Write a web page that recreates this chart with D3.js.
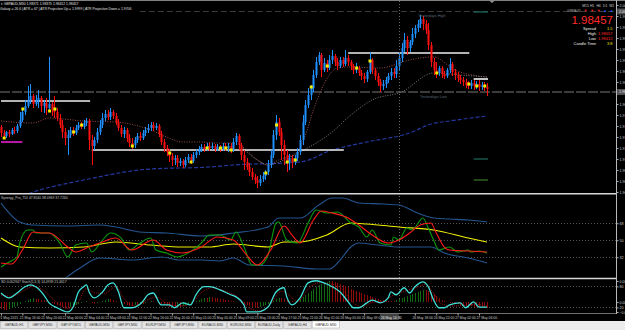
<!DOCTYPE html>
<html>
<head>
<meta charset="utf-8">
<script src="https://cdn.jsdelivr.net/npm/d3@7/dist/d3.min.js"></script>
<style>
  body { margin: 0; background: #000; }
  svg { display: block; }
</style>
</head>
<body>
<div id="chart"></div>
<script>
//GBPAUD M30 chart with TDI and stochastic/histogram windows

// ---- candles (one entry per 30 minute bar) ----
const opens = [1.9770,1.9758,1.9752,1.9760,1.9756,1.9764,1.9762,1.9772,1.9784,1.9800,
1.9812,1.9824,1.9832,1.9816,1.9824,1.9828,1.9812,1.9818,1.9808,1.9816,
1.9804,1.9800,1.9788,1.9774,1.9760,1.9748,1.9754,1.9764,1.9758,1.9768,
1.9774,1.9770,1.9778,1.9782,1.9744,1.9732,1.9744,1.9760,1.9774,1.9788,
1.9796,1.9790,1.9800,1.9792,1.9780,1.9768,1.9756,1.9764,1.9748,1.9738,
1.9734,1.9744,1.9752,1.9748,1.9758,1.9764,1.9768,1.9774,1.9768,1.9772,
1.9756,1.9740,1.9728,1.9720,1.9712,1.9704,1.9708,1.9698,1.9702,1.9694,
1.9704,1.9710,1.9702,1.9714,1.9720,1.9726,1.9730,1.9726,1.9732,1.9728,
1.9732,1.9726,1.9730,1.9726,1.9732,1.9728,1.9732,1.9724,1.9740,1.9752,
1.9734,1.9714,1.9700,1.9690,1.9680,1.9670,1.9664,1.9658,1.9666,1.9672,
1.9680,1.9694,1.9714,1.9754,1.9780,1.9760,1.9734,1.9714,1.9700,1.9708,
1.9700,1.9708,1.9720,1.9744,1.9780,1.9814,1.9834,1.9848,1.9874,1.9900,
1.9914,1.9884,1.9898,1.9888,1.9904,1.9912,1.9900,1.9892,1.9904,1.9896,
1.9908,1.9900,1.9892,1.9884,1.9888,1.9878,1.9872,1.9866,1.9880,1.9904,
1.9884,1.9872,1.9860,1.9852,1.9856,1.9864,1.9872,1.9880,1.9876,1.9892,
1.9908,1.9928,1.9944,1.9928,1.9940,1.9956,1.9968,1.9976,1.9986,1.9976,
1.9964,1.9934,1.9900,1.9884,1.9878,1.9888,1.9876,1.9872,1.9884,1.9896,
1.9880,1.9874,1.9868,1.9864,1.9860,1.9854,1.9852,1.9858,1.9852,1.9856,
1.9850,1.9854,1.9850];
const highs = [1.9774,1.9764,1.9762,1.9764,1.9768,1.9770,1.9776,1.9800,1.9808,1.9824,
1.9852,1.9856,1.9836,1.9834,1.9844,1.9832,1.9824,1.9828,1.9910,1.9820,
1.9832,1.9808,1.9796,1.9784,1.9768,1.9764,1.9770,1.9770,1.9774,1.9780,
1.9780,1.9784,1.9788,1.9786,1.9754,1.9750,1.9768,1.9784,1.9798,1.9804,
1.9804,1.9808,1.9804,1.9798,1.9786,1.9774,1.9770,1.9768,1.9756,1.9748,
1.9750,1.9758,1.9760,1.9764,1.9770,1.9776,1.9780,1.9780,1.9778,1.9776,
1.9762,1.9746,1.9734,1.9726,1.9718,1.9714,1.9714,1.9708,1.9706,1.9710,
1.9716,1.9716,1.9720,1.9726,1.9732,1.9736,1.9736,1.9738,1.9738,1.9738,
1.9736,1.9736,1.9734,1.9738,1.9738,1.9738,1.9738,1.9748,1.9758,1.9756,
1.9738,1.9724,1.9708,1.9698,1.9688,1.9676,1.9672,1.9674,1.9680,1.9684,
1.9704,1.9724,1.9764,1.9794,1.9788,1.9768,1.9744,1.9724,1.9716,1.9714,
1.9714,1.9728,1.9754,1.9794,1.9824,1.9848,1.9854,1.9884,1.9910,1.9920,
1.9918,1.9908,1.9904,1.9914,1.9924,1.9916,1.9908,1.9910,1.9910,1.9924,
1.9914,1.9904,1.9896,1.9898,1.9892,1.9884,1.9878,1.9884,1.9920,1.9908,
1.9888,1.9878,1.9866,1.9864,1.9870,1.9878,1.9888,1.9888,1.9904,1.9920,
1.9938,1.9958,1.9952,1.9944,1.9968,1.9974,1.9984,1.9994,1.9992,1.9984,
1.9978,1.9940,1.9908,1.9900,1.9892,1.9892,1.9882,1.9888,1.9908,1.9900,
1.9886,1.9880,1.9874,1.9870,1.9866,1.9862,1.9864,1.9864,1.9862,1.9864,
1.9860,1.9860,1.9858];
const lows = [1.9750,1.9746,1.9748,1.9750,1.9754,1.9756,1.9758,1.9768,1.9780,1.9794,
1.9808,1.9816,1.9808,1.9812,1.9808,1.9800,1.9798,1.9794,1.9804,1.9792,
1.9788,1.9782,1.9768,1.9748,1.9734,1.9714,1.9748,1.9752,1.9754,1.9764,
1.9766,1.9766,1.9772,1.9724,1.9694,1.9724,1.9738,1.9754,1.9768,1.9782,
1.9784,1.9784,1.9786,1.9774,1.9762,1.9750,1.9748,1.9740,1.9730,1.9726,
1.9728,1.9738,1.9742,1.9744,1.9752,1.9758,1.9762,1.9762,1.9764,1.9750,
1.9734,1.9720,1.9712,1.9700,1.9692,1.9694,1.9690,1.9692,1.9688,1.9690,
1.9698,1.9696,1.9698,1.9708,1.9714,1.9720,1.9720,1.9722,1.9722,1.9724,
1.9720,1.9722,1.9720,1.9722,1.9722,1.9720,1.9718,1.9720,1.9734,1.9724,
1.9704,1.9684,1.9684,1.9672,1.9664,1.9656,1.9648,1.9652,1.9660,1.9664,
1.9674,1.9688,1.9708,1.9744,1.9752,1.9704,1.9694,1.9680,1.9684,1.9688,
1.9694,1.9702,1.9714,1.9734,1.9774,1.9808,1.9824,1.9840,1.9868,1.9894,
1.9870,1.9880,1.9880,1.9884,1.9896,1.9892,1.9884,1.9888,1.9890,1.9892,
1.9892,1.9884,1.9876,1.9878,1.9872,1.9864,1.9858,1.9860,1.9876,1.9876,
1.9864,1.9852,1.9840,1.9844,1.9848,1.9858,1.9864,1.9868,1.9868,1.9884,
1.9900,1.9920,1.9914,1.9920,1.9934,1.9948,1.9960,1.9968,1.9964,1.9956,
1.9924,1.9890,1.9874,1.9868,1.9872,1.9868,1.9866,1.9868,1.9878,1.9872,
1.9864,1.9860,1.9856,1.9852,1.9848,1.9846,1.9846,1.9844,1.9846,1.9842,
1.9844,1.9842,1.9832];
const closes = [1.9758,1.9752,1.9760,1.9756,1.9764,1.9762,1.9772,1.9784,1.9800,1.9812,
1.9824,1.9832,1.9816,1.9824,1.9828,1.9812,1.9818,1.9808,1.9816,1.9804,
1.9800,1.9788,1.9774,1.9760,1.9748,1.9754,1.9764,1.9758,1.9768,1.9774,
1.9770,1.9778,1.9782,1.9744,1.9732,1.9744,1.9760,1.9774,1.9788,1.9796,
1.9790,1.9800,1.9792,1.9780,1.9768,1.9756,1.9764,1.9748,1.9738,1.9734,
1.9744,1.9752,1.9748,1.9758,1.9764,1.9768,1.9774,1.9768,1.9772,1.9756,
1.9740,1.9728,1.9720,1.9712,1.9704,1.9708,1.9698,1.9702,1.9694,1.9704,
1.9710,1.9702,1.9714,1.9720,1.9726,1.9730,1.9726,1.9732,1.9728,1.9732,
1.9726,1.9730,1.9726,1.9732,1.9728,1.9732,1.9724,1.9740,1.9752,1.9734,
1.9714,1.9700,1.9690,1.9680,1.9670,1.9664,1.9658,1.9666,1.9672,1.9680,
1.9694,1.9714,1.9754,1.9780,1.9760,1.9734,1.9714,1.9700,1.9708,1.9700,
1.9708,1.9720,1.9744,1.9780,1.9814,1.9834,1.9848,1.9874,1.9900,1.9914,
1.9884,1.9898,1.9888,1.9904,1.9912,1.9900,1.9892,1.9904,1.9896,1.9908,
1.9900,1.9892,1.9884,1.9888,1.9878,1.9872,1.9866,1.9880,1.9904,1.9884,
1.9872,1.9860,1.9852,1.9856,1.9864,1.9872,1.9880,1.9876,1.9892,1.9908,
1.9928,1.9944,1.9928,1.9940,1.9956,1.9968,1.9976,1.9986,1.9976,1.9964,
1.9934,1.9900,1.9884,1.9878,1.9888,1.9876,1.9872,1.9884,1.9896,1.9880,
1.9874,1.9868,1.9864,1.9860,1.9854,1.9852,1.9858,1.9852,1.9856,1.9850,
1.9854,1.9850,1.9846];

// signal dots on candles [bar, price]
const markers = [[1,1.9748],[8,1.9806],[18,1.9802],[20,1.9806],[27,1.9760],[30,1.9774],[49,1.9732],
[63,1.9718],[71,1.9700],[77,1.9728],[82,1.9728],[84,1.9728],[86,1.9724],[99,1.9678],[103,1.9774],
[107,1.9700],[110,1.9704],[116,1.9850],[122,1.9892],[133,1.9888],[138,1.9902],[163,1.9878],
[175,1.9856],[178,1.9852],[181,1.9852]];

// moving averages [bar, price]
const maroonMA = [[0,1.9782],[12,1.9778],[18,1.9788],[31,1.9782],[43,1.9780],[50,1.9774],[56,1.9764],
[62,1.9750],[68,1.9740],[75,1.9740],[81,1.9738],[87,1.9738],[91,1.9728],[96,1.9704],[100,1.9694],
[104,1.9704],[111,1.9720],[114,1.9754],[117,1.9804],[126,1.9888],[130,1.9890],[142,1.9888],
[153,1.9904],[162,1.9910],[170,1.9884],[182,1.9870]];
const grayMA = [[90,1.9730],[96,1.9704],[100,1.9694],[106,1.9704],[112,1.9720],[124,1.9760],[131,1.9794],
[139,1.9824],[150,1.9840],[162,1.9878],[172,1.9874],[182,1.9870]];
const navyMA = [[0,1.9614],[11,1.9638],[31,1.9664],[56,1.9686],[78,1.9690],[87,1.9694],[112,1.9700],
[124,1.9724],[137,1.9740],[153,1.9758],[161,1.9776],[168,1.9782],[182,1.9792]];

// support / resistance lines: price, first bar, last bar
const levelPrices = [1.9822, 1.9724, 1.9918, 1.9866];
const levelFrom = [0, 34, 130, 177];
const levelTo = [33, 128, 175, 182];
const magentaLevel = [1.9740, 0, 8];

const yesterdayHigh = 2.0001, yesterdayHighFrom = 52;
const yesterdayLow = 1.9840;
const atrMarks = [2.0000, 1.9706, 1.9664];
const atrColors = ["#1d6b5c", "#1d6b5c", "#3c7a28"];
const crossBar = 149;

const priceTicks = [2.0014,1.9992,1.9970,1.9948,1.9926,1.9904,1.9882,1.9860,1.9838,
1.9816,1.9794,1.9772,1.9750,1.9728,1.9706,1.9684,1.9662,1.9640];

// info panel values
const bidText = "1.98457";
const infoLabels = ["Spread", "High", "Low", "Candle Time"];
const infoValues = ["1.5", "1.98657", "1.98412", "3:8"];

// TDI window [bar, value]
const tdiUpper = [[0,89.4],[7,69.3],[12,66.1],[25,65.1],[37,66.1],[43,64.0],[52,58.7],[62,57.6],[75,54.5],
[87,57.6],[100,64.0],[104,73.5],[112,73.5],[119,87.3],[124,94.7],[128,94.7],[134,89.4],[143,88.4],
[149,87.3],[156,78.8],[162,73.5],[168,72.5],[175,71.4],[182,69.3]];
const tdiLower = [[0,-14],[10,-8],[20,2],[29,19.5],[37,31.1],[49,29.0],[60,32.2],[67,29.0],[75,29.0],
[82,28.0],[87,31.1],[93,23.7],[106,22.7],[118,19.5],[123,19.5],[127,29.0],[131,42.8],[134,47.0],
[141,44.9],[149,42.8],[161,42.8],[166,36.4],[175,31.1],[182,25.8]];
const tdiBase = [[0,52.3],[7,42.8],[18,41.7],[31,42.8],[43,48.1],[56,44.9],[68,42.8],[78,42.8],[87,46.0],
[100,42.8],[106,48.1],[112,48.1],[122,55.5],[131,68.2],[137,67.2],[149,64.0],[162,60.8],[175,52.3],[182,48.1]];
const tdiPrice = [[0,21.6],[3,26.9],[6,32.2],[7,47.0],[10,60.8],[12,60.8],[13,57.6],[18,57.6],[22,47.0],
[25,32.2],[28,44.9],[32,47.0],[34,37.5],[38,50.2],[41,57.6],[45,52.3],[48,39.6],[52,47.0],[56,52.3],
[58,39.6],[62,36.4],[66,32.2],[70,36.4],[75,47.0],[78,55.5],[82,55.5],[86,50.2],[88,58.7],[91,42.8],
[94,23.7],[97,23.7],[100,34.3],[103,68.2],[104,69.3],[107,50.2],[111,47.0],[115,68.2],[118,82.0],
[122,78.8],[126,79.9],[131,68.2],[134,64.0],[137,53.4],[139,60.8],[142,47.0],[146,44.9],[147,53.4],
[149,50.2],[152,63.0],[154,60.8],[158,73.5],[160,63.0],[162,50.2],[164,39.6],[168,42.8],[171,37.5],
[175,39.6],[176,37.5],[179,38.6],[182,36.4]];
const tdiSignal = [[0,25.8],[4,24.8],[8,39.6],[12,58.7],[16,57.6],[18,57.6],[25,42.8],[28,37.5],[33,42.8],
[37,47.0],[43,52.3],[49,39.6],[57,50.2],[62,39.6],[68,36.4],[75,42.8],[81,53.4],[87,50.2],[92,34.3],
[96,23.7],[101,39.6],[106,65.1],[109,55.5],[112,47.0],[117,71.4],[120,81.0],[124,78.8],[130,73.5],
[134,66.1],[139,55.5],[145,47.0],[149,50.2],[153,57.6],[157,66.1],[161,68.2],[163,57.6],[166,42.8],
[168,39.6],[175,38.6],[182,37.5]];
const tdiLevels = [68, 50, 32];

// stochastic window [bar, value]
const stochMain = [[0,61],[3,47],[6,61],[9,79],[11,84],[13,79],[16,56],[18,33],[21,19],[25,7],[27,21],
[29,64],[31,79],[32,84],[33,64],[35,47],[38,64],[40,84],[42,90],[44,64],[46,19],[49,19],[53,36],[55,56],
[57,61],[60,27],[63,27],[65,19],[68,33],[71,27],[73,56],[76,79],[78,79],[82,70],[86,56],[88,50],[91,27],
[92,7],[96,7],[100,21],[103,64],[106,76],[107,50],[109,27],[112,47],[115,90],[118,96],[121,90],[124,79],
[127,64],[130,36],[132,19],[134,19],[137,33],[139,41],[142,33],[145,47],[146,64],[148,56],[151,76],
[153,61],[155,79],[158,93],[160,79],[162,41],[164,19],[166,19],[168,27],[172,33],[174,19],[177,36],
[179,21],[182,21]];
const stochSignal = [[0,55],[4,52],[8,66],[12,80],[16,68],[20,40],[25,17],[29,36],[32,74],[35,62],[39,60],
[43,80],[46,45],[50,24],[55,42],[58,50],[62,32],[67,24],[71,30],[75,62],[79,76],[84,66],[89,48],[93,18],
[97,10],[101,30],[105,66],[108,54],[111,36],[115,72],[119,90],[124,86],[128,70],[131,40],[135,22],
[139,34],[143,38],[147,55],[151,66],[156,78],[159,86],[162,60],[165,30],[169,24],[174,26],[178,28],[182,24]];
const stochLevels = [80, 20];
// histogram, one value per bar
const histogram = [-0.0007,-0.0008,-0.0008,
-0.0007,-0.0006,-0.0005,-0.0004,
-0.0002,0.0000,0.0001,0.0002,0.0003,0.0004,
0.0003,0.0003,0.0002,0.0002,0.0001,
0.0000,-0.0001,-0.0002,-0.0003,-0.0004,-0.0005,-0.0006,-0.0006,-0.0005,-0.0004,
-0.0003,-0.0002,-0.0001,0.0000,0.0001,0.0000,-0.0001,-0.0002,-0.0001,
0.0000,0.0001,0.0002,0.0003,0.0003,0.0002,0.0001,0.0000,
-0.0001,-0.0002,-0.0003,-0.0004,-0.0004,-0.0003,-0.0003,-0.0002,-0.0002,-0.0001,
0.0000,0.0001,0.0001,0.0000,-0.0001,
-0.0002,-0.0003,-0.0004,-0.0005,-0.0005,-0.0006,-0.0005,-0.0005,-0.0004,-0.0003,
-0.0002,-0.0001,0.0000,0.0001,0.0002,0.0003,0.0004,0.0004,0.0005,0.0005,0.0004,
0.0004,0.0003,0.0003,0.0002,0.0002,0.0001,0.0001,0.0000,0.0000,
-0.0001,-0.0002,-0.0003,-0.0004,-0.0005,-0.0006,-0.0006,-0.0005,-0.0004,-0.0003,-0.0002,
-0.0001,0.0001,0.0003,0.0004,0.0004,0.0003,
0.0002,0.0001,0.0001,0.0000,0.0001,
0.0003,0.0005,0.0007,0.0009,0.0011,0.0013,
0.0015,0.0017,0.0018,0.0019,0.0020,0.0021,
0.0021,0.0020,0.0019,0.0018,0.0017,0.0016,0.0015,
0.0013,0.0012,0.0011,0.0010,0.0009,0.0008,0.0007,0.0006,0.0005,0.0004,0.0003,
0.0002,0.0002,0.0001,0.0001,0.0001,0.0001,
0.0002,0.0003,0.0004,0.0005,0.0006,0.0007,
0.0008,0.0009,0.0010,0.0011,0.0012,0.0012,0.0011,
0.0010,0.0008,0.0006,0.0004,0.0002,
0.0001,0.0000,-0.0001,-0.0001,-0.0002,-0.0002,-0.0003,
-0.0003,-0.0004,-0.0004,-0.0004,-0.0005,-0.0005,-0.0005,-0.0005,-0.0006,-0.0006];

// time axis (the label under the crosshair box is hidden there)
const timeBars = [0,8,16,24,32,40,48,56,64,72,80,88,96,104,112,120,128,136,155,163,171,179];
const timeLabels = ["21 May 2015","21 May 16:00","21 May 20:00","22 May 00:00","22 May 04:00","22 May 08:00",
"22 May 12:00","22 May 16:00","22 May 20:00","25 May 01:00","25 May 05:00","25 May 09:00","25 May 13:00",
"25 May 17:00","25 May 21:00","26 May 01:00","26 May 05:00","26 May 09:00",
"26 May 18:00","26 May 22:00","27 May 02:00","27 May 06:00"];
const crossLabel = "26 May 14:30";

const tabNames = ["GBPAUD,H1","GBPJPY,M30","GBPJPY,M15","GBPAUD,M30","GBPJPY,M30","EURJPY,M30",
"GBPJPY,M30","EURAUD,M30","EURUSD,M30","EURAUD,Daily","GBPAUD,H4","GBPAUD,M30"];

const timeframes = ["M15","H1","H4","D1","W1"];
const tfTrend = ["down","down","down","up","up"];

// ---- drawing ----
var W = 625, H = 330, axisX = 616;
var FONT = "Liberation Sans, Arial, sans-serif";

var svg = d3.select("#chart").append("svg")
    .attr("width", W)
    .attr("height", H)
    .style("font-family", FONT);

svg.append("rect").attr("width", W).attr("height", H).attr("fill", "#000");

var x = d3.scaleLinear().domain([0, 182]).range([1, 487]);
var yPrice = d3.scaleLinear().domain([1.9638, 2.0024]).range([193, 0]);
var yTdi = d3.scaleLinear().domain([11, 99]).range([277, 194]);
var yOsc = d3.scaleLinear().domain([4, 101]).range([313, 279]);
var yHist = d3.scaleLinear().domain([-0.0011, 0.0023]).range([313, 279]);

var defs = svg.append("defs");
function addClip(id, y0, y1) {
    defs.append("clipPath").attr("id", id)
        .append("rect").attr("x", 0).attr("y", y0).attr("width", axisX).attr("height", y1 - y0);
}
addClip("clipMain", 1, 193);
addClip("clipTdi", 194.5, 277.5);
addClip("clipOsc", 279.5, 313);
//right axis labels are cut by the window edge, as in the terminal
defs.append("clipPath").attr("id", "clipAxis")
    .append("rect").attr("x", axisX).attr("y", 0).attr("width", W - axisX).attr("height", 321);

var main = svg.append("g").attr("clip-path", "url(#clipMain)");

//yesterday high / low
main.append("line")
    .attr("x1", x(yesterdayHighFrom)).attr("x2", axisX)
    .attr("y1", Math.round(yPrice(yesterdayHigh)) + 0.5).attr("y2", Math.round(yPrice(yesterdayHigh)) + 0.5)
    .attr("stroke", "#3a3a3a").attr("stroke-dasharray", "6,3");
main.append("line")
    .attr("x1", 0).attr("x2", axisX)
    .attr("y1", yPrice(yesterdayLow)).attr("y2", yPrice(yesterdayLow))
    .attr("stroke", "#3c3c3c").attr("stroke-width", 2).attr("stroke-dasharray", "10,2");

//vertical line
svg.append("line")
    .attr("x1", Math.round(x(crossBar)) + 0.5).attr("x2", Math.round(x(crossBar)) + 0.5)
    .attr("y1", 1).attr("y2", 313)
    .attr("stroke", "#6a6a6a").attr("stroke-dasharray", "1,2");

function priceLine(data) {
    return d3.line().x(function(d) { return x(d[0]); }).y(function(d) { return yPrice(d[1]); })
        .curve(d3.curveMonotoneX)(data);
}
main.append("path").attr("d", priceLine(navyMA)).attr("fill", "none")
    .attr("stroke", "#2438a0").attr("stroke-width", 1.2).attr("stroke-dasharray", "4,2");
main.append("path").attr("d", priceLine(maroonMA)).attr("fill", "none")
    .attr("stroke", "#9a4c4c").attr("stroke-width", 1).attr("stroke-dasharray", "1,1.5");
main.append("path").attr("d", priceLine(grayMA)).attr("fill", "none")
    .attr("stroke", "#7c7c7c").attr("stroke-width", 1).attr("stroke-dasharray", "1,1.5");

//level lines
levelPrices.forEach(function(p, k) {
    main.append("line")
        .attr("x1", x(levelFrom[k])).attr("x2", x(levelTo[k]) + 1)
        .attr("y1", yPrice(p)).attr("y2", yPrice(p))
        .attr("stroke", "#f0f0f0").attr("stroke-width", 1.6);
});
main.append("line")
    .attr("x1", x(magentaLevel[1])).attr("x2", x(magentaLevel[2]))
    .attr("y1", yPrice(magentaLevel[0])).attr("y2", yPrice(magentaLevel[0]))
    .attr("stroke", "#e020d0").attr("stroke-width", 1.6);

//atr projection marks
atrMarks.forEach(function(p, k) {
    main.append("line")
        .attr("x1", x(177)).attr("x2", x(182) + 1)
        .attr("y1", yPrice(p)).attr("y2", yPrice(p))
        .attr("stroke", atrColors[k]).attr("stroke-width", 1.2);
});

//candles
var candles = opens.map(function(o, i) {
    return { i: i, o: o, h: highs[i], l: lows[i], c: closes[i] };
});
function candleColor(d) { return d.c >= d.o ? "#1e90ff" : "#ff1010"; }

var cg = main.append("g");
cg.selectAll("line.wick")
    .data(candles)
    .enter()
    .append("line")
        .attr("class", "wick")
        .attr("x1", function(d) { return Math.round(x(d.i)) + 0.5; })
        .attr("x2", function(d) { return Math.round(x(d.i)) + 0.5; })
        .attr("y1", function(d) { return yPrice(d.h); })
        .attr("y2", function(d) { return yPrice(d.l); })
        .attr("stroke", candleColor)
        .attr("stroke-width", 1);
cg.selectAll("rect")
    .data(candles)
    .enter()
    .append("rect")
        .attr("x", function(d) { return Math.round(x(d.i)) - 0.5; })
        .attr("width", 2)
        .attr("y", function(d) { return Math.min(yPrice(d.o), yPrice(d.c)); })
        .attr("height", function(d) { return Math.max(1, Math.abs(yPrice(d.o) - yPrice(d.c))); })
        .style("fill", candleColor);

//signal dots
main.append("g").selectAll("rect")
    .data(markers)
    .enter()
    .append("rect")
        .attr("x", function(d) { return x(d[0]) - 1; })
        .attr("y", function(d) { return yPrice(d[1]) - 1.5; })
        .attr("width", 3).attr("height", 3)
        .style("fill", "#f0f000");

//yesterday labels
svg.append("text").attr("x", 418).attr("y", 16.5).attr("font-size", 3.8).attr("fill", "#5c6878").text("Yesterdays High");
svg.append("text").attr("x", 420).attr("y", 97.5).attr("font-size", 3.8).attr("fill", "#5c6878").text("Yesterdays Low");

//chart header
svg.append("text").attr("x", 1).attr("y", 5).attr("font-size", 3.4).attr("fill", "#e0e0e0")
    .text("\u25be GBPAUD,M30  1.98371 1.98375 1.98412 1.98457");
svg.append("text").attr("x", 0).attr("y", 10).attr("font-size", 3.4).attr("fill", "#e0e0e0")
    .text("Galaxy = 26.6   |   ATR = 67   |   ATR Projection Up = 1.9999   |   ATR Projection Down = 1.9706");

//info panel top right
svg.append("text").attr("x", 567).attr("y", 12.3).attr("font-size", 3.4).attr("fill", "#a8a8a8").text("GBPAUD");
var tfX = d3.scalePoint().domain(timeframes).range([585.5, 611.7]);
timeframes.forEach(function(tf, k) {
    svg.append("text").attr("x", tfX(tf)).attr("y", 6.5).attr("text-anchor", "middle")
        .attr("font-size", 3.4).attr("fill", "#d0d0d0").text(tf);
    svg.append("text").attr("x", tfX(tf)).attr("y", 12).attr("text-anchor", "middle")
        .attr("font-size", 3.8).attr("fill", tfTrend[k] === "down" ? "#ff2020" : "#2060ff")
        .text(tfTrend[k] === "down" ? "\u25bc" : "\u25b2");
});
svg.append("text").attr("x", 613).attr("y", 24).attr("text-anchor", "end")
    .attr("font-size", 11.5).attr("fill", "#ff2a2a").text(bidText);
var infoY = d3.scalePoint().domain(infoLabels).range([30.2, 45]);
var infoColors = ["#f0e000", "#ff2a2a", "#ff2a2a", "#f0e000"];
infoLabels.forEach(function(lbl, k) {
    svg.append("text").attr("x", 596).attr("y", infoY(lbl)).attr("text-anchor", "end")
        .attr("font-size", 4).attr("fill", "#f0f0f0").text(lbl);
    svg.append("text").attr("x", 612.5).attr("y", infoY(lbl)).attr("text-anchor", "end")
        .attr("font-size", 4).attr("fill", infoColors[k]).text(infoValues[k]);
});

// ---- TDI window ----
var tdi = svg.append("g").attr("clip-path", "url(#clipTdi)");
tdiLevels.forEach(function(v) {
    tdi.append("line").attr("x1", 0).attr("x2", axisX)
        .attr("y1", Math.round(yTdi(v)) + 0.5).attr("y2", Math.round(yTdi(v)) + 0.5)
        .attr("stroke", "#555").attr("stroke-dasharray", "1,2");
});
function tdiLine(data) {
    return d3.line().x(function(d) { return x(d[0]); }).y(function(d) { return yTdi(d[1]); })
        .curve(d3.curveMonotoneX)(data);
}
[[tdiUpper, "#24558f"], [tdiLower, "#24558f"], [tdiBase, "#f0f000"], [tdiPrice, "#0c9a0c"], [tdiSignal, "#ff1a1a"]]
    .forEach(function(s) {
        tdi.append("path").attr("d", tdiLine(s[0])).attr("fill", "none")
            .attr("stroke", s[1]).attr("stroke-width", 1.1);
    });
svg.append("text").attr("x", 1).attr("y", 198.5).attr("font-size", 3.4).attr("fill", "#c8c8c8")
    .text("Synergy_Pro_TDI 47.8540 38.0969 37.7260");

// ---- stochastic / histogram window ----
var osc = svg.append("g").attr("clip-path", "url(#clipOsc)");
stochLevels.forEach(function(v) {
    osc.append("line").attr("x1", 0).attr("x2", axisX)
        .attr("y1", Math.round(yOsc(v)) + 0.5).attr("y2", Math.round(yOsc(v)) + 0.5)
        .attr("stroke", "#555").attr("stroke-dasharray", "1,2");
});
osc.append("g").selectAll("line")
    .data(histogram)
    .enter()
    .append("line")
        .attr("x1", function(d, i) { return Math.round(x(i)) + 0.5; })
        .attr("x2", function(d, i) { return Math.round(x(i)) + 0.5; })
        .attr("y1", yHist(0))
        .attr("y2", function(d) { return yHist(d); })
        .attr("stroke", function(d, i) { return (i > 0 && d > histogram[i - 1]) ? "#116a11" : "#8c0c0c"; })
        .attr("stroke-width", 1);
function oscLine(data) {
    return d3.line().x(function(d) { return x(d[0]); }).y(function(d) { return yOsc(d[1]); })
        .curve(d3.curveMonotoneX)(data);
}
osc.append("path").attr("d", oscLine(stochSignal)).attr("fill", "none")
    .attr("stroke", "#a01010").attr("stroke-width", 1).attr("stroke-dasharray", "1,1");
osc.append("path").attr("d", oscLine(stochMain)).attr("fill", "none")
    .attr("stroke", "#3ee0d8").attr("stroke-width", 1.3);
svg.append("text").attr("x", 1).attr("y", 282.5).attr("font-size", 3.4).attr("fill", "#c8c8c8")
    .text("SD 0.002947  Stoch(5,3,3) 14.4939 21.4617");

// ---- frames ----
svg.append("line").attr("x1", 0).attr("x2", W).attr("y1", 0.5).attr("y2", 0.5).attr("stroke", "#808080");
svg.append("line").attr("x1", 0).attr("x2", axisX).attr("y1", 193.8).attr("y2", 193.8)
    .attr("stroke", "#d8d8d8").attr("stroke-width", 1.5);
svg.append("line").attr("x1", 0).attr("x2", axisX).attr("y1", 278.5).attr("y2", 278.5)
    .attr("stroke", "#d8d8d8").attr("stroke-width", 1.5);
svg.append("line").attr("x1", 0).attr("x2", axisX).attr("y1", 313.5).attr("y2", 313.5)
    .attr("stroke", "#707070");
svg.append("line").attr("x1", axisX + 0.5).attr("x2", axisX + 0.5).attr("y1", 0).attr("y2", 314)
    .attr("stroke", "#b8b8b8");
svg.append("path").attr("d", "M489,0.5 L495,0.5 L492,3 Z").attr("fill", "#909090");

var axisLayer = svg.append("g").attr("clip-path", "url(#clipAxis)");

function styleRightAxis(g, size) {
    g.select(".domain").remove();
    g.attr("font-size", size).attr("font-family", FONT);
    g.selectAll("line").attr("stroke", "#b0b0b0");
    g.selectAll("text").attr("fill", "#cccccc");
}

//price axis
var pAxis = axisLayer.append("g")
    .attr("transform", "translate(" + (axisX + 0.5) + ",0)")
    .call(d3.axisRight(yPrice).tickValues(priceTicks).tickFormat(d3.format(".4f")).tickSize(2).tickPadding(1));
styleRightAxis(pAxis, 3.6);

//price boxes for yesterday high / low
[yesterdayHigh, yesterdayLow].forEach(function(p) {
    axisLayer.append("rect").attr("x", axisX + 1).attr("y", yPrice(p) - 3).attr("width", 9).attr("height", 6)
        .attr("fill", "#505050");
    axisLayer.append("text").attr("x", axisX + 3).attr("y", yPrice(p) + 1.3).attr("font-size", 3.6)
        .attr("fill", "#e8e8e8").text(p.toFixed(4));
});

//TDI axis
var tAx = axisLayer.append("g")
    .attr("transform", "translate(" + (axisX + 0.5) + ",0)")
    .call(d3.axisRight(yTdi).tickValues(tdiLevels).tickSize(2).tickPadding(1));
styleRightAxis(tAx, 3.6);

//stochastic axis
var oAx = axisLayer.append("g")
    .attr("transform", "translate(" + (axisX + 0.5) + ",0)")
    .call(d3.axisRight(yOsc).tickValues(stochLevels).tickSize(2).tickPadding(1));
styleRightAxis(oAx, 3.6);
var hAx = axisLayer.append("g")
    .attr("transform", "translate(" + (axisX + 0.5) + ",0)")
    .call(d3.axisRight(yHist).tickValues([0.0021, 0, -0.0010]).tickFormat(d3.format(".4f")).tickSize(2).tickPadding(1));
styleRightAxis(hAx, 3.4);

//time axis
var xAx = svg.append("g")
    .attr("transform", "translate(0,313.5)")
    .call(d3.axisBottom(x).tickValues(timeBars).tickFormat(function(d, i) { return timeLabels[i]; })
        .tickSize(2).tickPadding(1));
xAx.select(".domain").remove();
xAx.attr("font-size", 3.4).attr("font-family", FONT);
xAx.selectAll("line").attr("stroke", "#b0b0b0");
xAx.selectAll("text").attr("fill", "#cccccc").attr("text-anchor", "start").attr("x", -3);

svg.append("rect").attr("x", x(crossBar) - 19).attr("y", 314).attr("width", 19).attr("height", 6)
    .attr("fill", "#404040");
svg.append("text").attr("x", x(crossBar) - 18).attr("y", 318.5).attr("font-size", 3.4)
    .attr("fill", "#f0f0f0").text(crossLabel);

//tabs
svg.append("rect").attr("x", 0).attr("y", 321).attr("width", W).attr("height", 9).attr("fill", "#ececec");
var tabX = d3.scaleBand().domain(d3.range(tabNames.length)).range([0, 340]);
tabNames.forEach(function(name, k) {
    var active = k === tabNames.length - 1;
    svg.append("rect").attr("x", tabX(k) + 0.5).attr("y", active ? 321 : 321.5)
        .attr("width", tabX.bandwidth() - 1).attr("height", 7)
        .attr("fill", active ? "#ffffff" : "#e4e4e4").attr("stroke", "#a8a8a8").attr("stroke-width", 0.5);
    svg.append("text").attr("x", tabX(k) + tabX.bandwidth() / 2).attr("y", 326.3)
        .attr("text-anchor", "middle").attr("font-size", 3.3).attr("fill", "#303030").text(name);
});
</script>
</body>
</html>
